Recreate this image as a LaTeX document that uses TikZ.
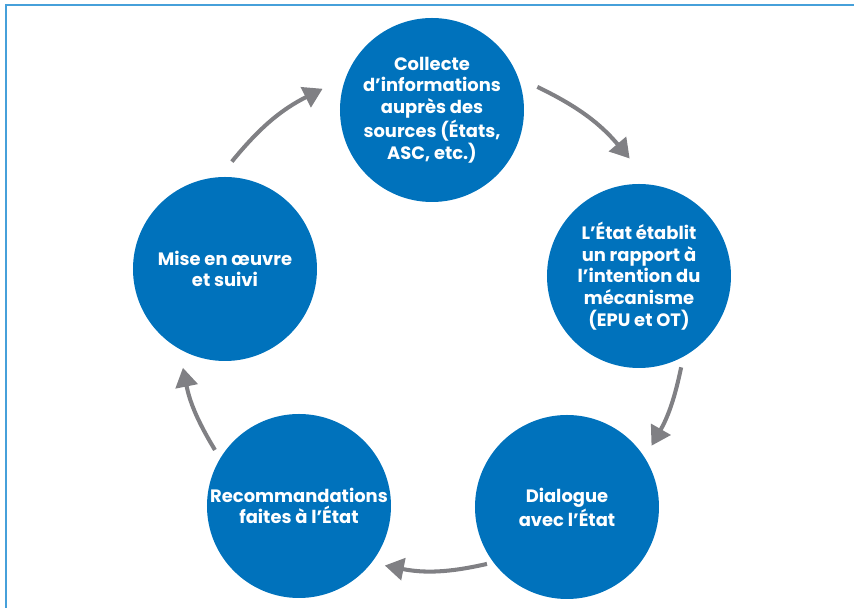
\documentclass[tikz,border=0pt]{standalone}
\usepackage{fontspec}
\setmainfont{Poppins}
\usetikzlibrary{arrows.meta}

\definecolor{stepblue}{RGB}{0,114,188}
\definecolor{frameblue}{RGB}{70,160,218}
\definecolor{flowgray}{RGB}{128,128,132}

\begin{document}
\begin{tikzpicture}[
  font=\bfseries\fontsize{10.2}{12.3}\selectfont,
  stage/.style={circle, fill=stepblue, text=white, minimum size=36.8mm,
                inner sep=0pt, align=center},
  flow/.style={-{Triangle[length=3.8mm,width=4.4mm]}, draw=flowgray,
               line width=2.3pt, bend left=12},
  frame/.style={draw=frameblue, line width=1pt}
]
\useasboundingbox (-8.64,-5.8) rectangle (8.44,6.36);
\draw[frame] (-8.52,-5.8) -- (-8.52,6.26) -- (8.44,6.26);

\node[stage] (collect)   at (0, 4.16)     {Collecte\\d’informations\\auprès des\\sources (États,\\ASC, etc.)};
\node[stage] (report)    at (4.14, 0.84)  {L’État établit\\un rapport à\\l’intention du\\mécanisme\\(EPU et OT)};
\node[stage] (dialogue)  at (2.70, -3.78) {Dialogue\\avec l’État};
\node[stage] (recomm)    at (-2.66, -3.76){Recommandations\\faites à l’État};
\node[stage] (implement) at (-4.14, 0.98) {Mise en œuvre\\et suivi};

% arrow ends on the ring round the cycle
\coordinate (s1) at (65.5:5.08);  \coordinate (e1) at (38.9:5.08);
\coordinate (s2) at (-11.2:5.08); \coordinate (e2) at (-30.2:5.08);
\coordinate (s3) at (-77.4:5.04); \coordinate (e3) at (-100.8:5.04);
\coordinate (s4) at (211.3:5.08); \coordinate (e4) at (191.3:5.08);
\coordinate (s5) at (142:5.08);   \coordinate (e5) at (115.5:5.08);

\draw[flow] (s1) to (e1);
\draw[flow] (s2) to[bend left=9] (e2);
\draw[flow] (s3) to (e3);
\draw[flow] (s4) to[bend left=10] (e4);
\draw[flow] (s5) to (e5);
\end{tikzpicture}
\end{document}
